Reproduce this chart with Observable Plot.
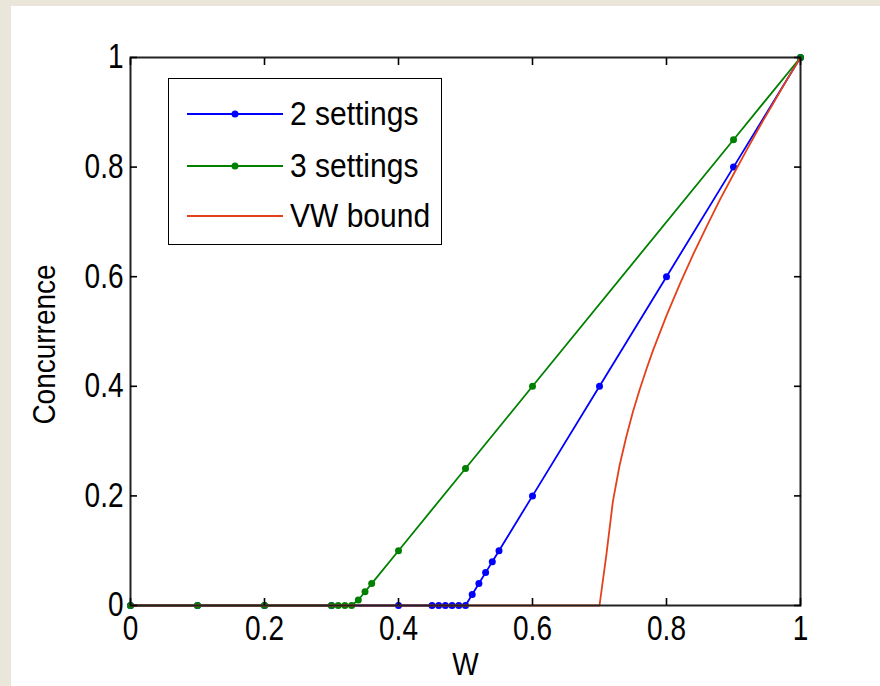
<!DOCTYPE html>
<html>
<head>
<meta charset="utf-8">
<script src="https://cdn.jsdelivr.net/npm/d3@7"></script>
<script src="https://cdn.jsdelivr.net/npm/@observablehq/plot@0.6"></script>
<style>
  html, body { margin: 0; padding: 0; width: 880px; height: 686px; overflow: hidden; background: #ebe6da; }
  #panel { position: absolute; left: 11px; top: 6px; width: 869px; height: 680px; background: #fff; }
  #chart { position: absolute; left: 0; top: 0; }
  #legend { position: absolute; left: 157px; top: 72px; width: 272px; height: 165px; border: 1.5px solid #000; background: #fff;
            font-family: "Liberation Sans", Arial, Helvetica, sans-serif; font-size: 30px; color: #000; }
  .row { position: absolute; left: 0; height: 40px; }
  .row svg { position: absolute; left: 16px; top: 0; }
  .row span { position: absolute; left: 121px; top: 50%; transform: translateY(-50%) scaleY(1.1); transform-origin: left center;
              white-space: nowrap; line-height: 1; }
</style>
</head>
<body>
<div id="panel"><div id="chart"></div><div id="legend"></div></div>
<script>
// ---- data ----
const xTicks = [0, 0.2, 0.4, 0.6, 0.8, 1];
const yTicks = [0, 0.2, 0.4, 0.6, 0.8, 1];
const xLabel = "W";
const yLabel = "Concurrence";

const seriesNames = ["2 settings", "3 settings", "VW bound"];
const seriesColors = ["#0000ff", "#008000", "#e4411b"];

// 2 settings
const twoW = [0, 0.1, 0.2, 0.3, 0.4, 0.45, 0.46, 0.47, 0.48, 0.49, 0.5, 0.51, 0.52, 0.53, 0.54, 0.55, 0.6, 0.7, 0.8, 0.9, 1];
const twoC = [0, 0,   0,   0,   0,   0,    0,    0,    0,    0,    0,   0.02, 0.04, 0.06, 0.08, 0.10, 0.2, 0.4, 0.6, 0.8, 1];

// 3 settings
const threeW = [0, 0.1, 0.2, 0.3, 0.31, 0.32, 0.33, 0.34, 0.35, 0.36, 0.4, 0.5, 0.6, 0.9, 1];
const threeC = [0, 0,   0,   0,   0,    0,    0,    0.01, 0.025, 0.04, 0.1, 0.25, 0.4, 0.85, 1];

// VW bound
const vwW = [0, 0.70, 0.71, 0.72, 0.73, 0.74, 0.75, 0.76, 0.77, 0.78, 0.80, 0.82, 0.84, 0.86, 0.88, 0.90, 0.92, 0.94, 0.96, 0.98, 1];
const vwC = [0, 0,    0.09, 0.19, 0.256, 0.308, 0.354, 0.394, 0.431, 0.466, 0.529, 0.587, 0.641, 0.692, 0.741, 0.787, 0.832, 0.876, 0.918, 0.96, 1];

const two = twoW.map((w, i) => ({w, c: twoC[i]}));
const three = threeW.map((w, i) => ({w, c: threeC[i]}));
const vw = vwW.map((w, i) => ({w, c: vwC[i]}));

const fmt = d3.format("~g");
const font = "'Liberation Sans', Arial, Helvetica, sans-serif";
const LW = 1.8, R = 3.5;

const chart = Plot.plot({
  width: 869,
  height: 680,
  marginLeft: 119,
  marginRight: 80,
  marginTop: 51,
  marginBottom: 81,
  x: {domain: [0, 1]},
  y: {domain: [0, 1]},
  style: {fontFamily: font, fontSize: "28px", color: "#000", background: "transparent", overflow: "visible"},
  marks: [
    Plot.line(two, {x: "w", y: "c", stroke: seriesColors[0], strokeWidth: LW}),
    Plot.dot(two, {x: "w", y: "c", fill: seriesColors[0], r: R}),
    Plot.line(three, {x: "w", y: "c", stroke: seriesColors[1], strokeWidth: LW}),
    Plot.dot(three, {x: "w", y: "c", fill: seriesColors[1], r: R}),
    Plot.line(vw, {x: "w", y: "c", stroke: seriesColors[2], strokeWidth: LW}),
    Plot.frame({stroke: "#222", strokeWidth: 2}),
    Plot.axisX(xTicks, {anchor: "bottom", tickSize: -7, tickPadding: 17, tickFormat: fmt, strokeWidth: 1.6, label: null}),
    Plot.axisX(xTicks, {anchor: "top", tickSize: -7, tickFormat: () => "", strokeWidth: 1.6, label: null}),
    Plot.axisY(yTicks, {anchor: "left", tickSize: -7, tickPadding: 14, tickFormat: fmt, strokeWidth: 1.6, label: null}),
    Plot.axisY(yTicks, {anchor: "right", tickSize: -7, tickFormat: () => "", strokeWidth: 1.6, label: null}),
    Plot.text([xLabel], {frameAnchor: "bottom", textAnchor: "middle", dy: 59, fontSize: 28, lineAnchor: "middle"}),
    Plot.text([yLabel], {frameAnchor: "left", textAnchor: "middle", rotate: -90, dx: -86, dy: 13, fontSize: 28, lineAnchor: "middle"})
  ]
});
document.getElementById("chart").appendChild(chart);

// MATLAB-style tall glyphs: stretch text about its own anchor
const num = /^-?\d+(\.\d+)?$/;
function stretch(sel, sx, sy) {
  chart.querySelectorAll(sel).forEach(t => {
    const tr = t.getAttribute("transform") || "";
    const xa = t.getAttribute("x"), ya = t.getAttribute("y");
    const x = xa && num.test(xa) ? +xa : 0;
    const y = ya && num.test(ya) ? +ya : 0;
    const extra = (x || y)
      ? ` translate(${x},${y}) scale(${sx},${sy}) translate(${-x},${-y})`
      : ` scale(${sx},${sy})`;
    t.setAttribute("transform", (tr + extra).trim());
  });
}
stretch("g[aria-label$='tick label'] text", 1, 1.22);
stretch("g[aria-label='text'] text", 1, 1.15);

// ---- legend (HTML, built from the series arrays) ----
const legend = document.getElementById("legend");
const rowTops = [15, 67, 117];
seriesNames.forEach((name, i) => {
  const row = document.createElement("div");
  row.className = "row";
  row.style.top = rowTops[i] + "px";
  row.style.width = "272px";
  const hasDot = i < 2;
  row.innerHTML =
    `<svg width="100" height="40"><line x1="2" y1="20" x2="98" y2="20" stroke="${seriesColors[i]}" stroke-width="${LW}"/>` +
    (hasDot ? `<circle cx="50" cy="20" r="${R}" fill="${seriesColors[i]}"/>` : "") +
    `</svg><span>${name}</span>`;
  legend.appendChild(row);
});
</script>
</body>
</html>
